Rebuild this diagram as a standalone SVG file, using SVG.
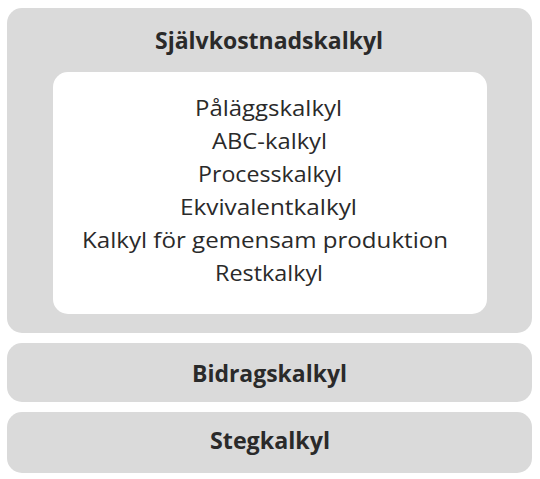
<svg xmlns="http://www.w3.org/2000/svg" width="540" height="479" viewBox="0 0 540 479">
<style>
.box{fill:#dadada}
.inner{fill:#ffffff}
.t{font-family:"Open Sans","Noto Sans",sans-serif;fill:#2a2a2a;text-anchor:middle}
.b{font-weight:bold;font-size:24px}
.n{font-size:22px}
</style>
<rect width="540" height="479" fill="#ffffff"/>
<g id="sjalvkostnadskalkyl">
<rect class="box" x="7" y="8" width="525" height="325" rx="15"/>
<text class="t b" x="269" y="49" textLength="228" lengthAdjust="spacingAndGlyphs">Självkostnadskalkyl</text>
</g>
<g id="metoder">
<rect class="inner" x="53" y="72" width="434" height="242" rx="15"/>
<text class="t n" x="268.5" y="116" textLength="147" lengthAdjust="spacingAndGlyphs">Påläggskalkyl</text>
<text class="t n" x="269.5" y="149" textLength="115" lengthAdjust="spacingAndGlyphs">ABC-kalkyl</text>
<text class="t n" x="270" y="182" textLength="144" lengthAdjust="spacingAndGlyphs">Processkalkyl</text>
<text class="t n" x="268.5" y="215" textLength="177" lengthAdjust="spacingAndGlyphs">Ekvivalentkalkyl</text>
<text class="t n" x="265" y="248" textLength="366" lengthAdjust="spacingAndGlyphs">Kalkyl för gemensam produktion</text>
<text class="t n" x="269" y="281" textLength="108" lengthAdjust="spacingAndGlyphs">Restkalkyl</text>
</g>
<g id="bidragskalkyl">
<rect class="box" x="7" y="343" width="525" height="59" rx="15"/>
<text class="t b" x="269.5" y="382" textLength="155" lengthAdjust="spacingAndGlyphs">Bidragskalkyl</text>
</g>
<g id="stegkalkyl">
<rect class="box" x="7" y="412" width="525" height="61" rx="15"/>
<text class="t b" x="270" y="449" textLength="120" lengthAdjust="spacingAndGlyphs">Stegkalkyl</text>
</g>
<g id="connectors"></g>
</svg>
